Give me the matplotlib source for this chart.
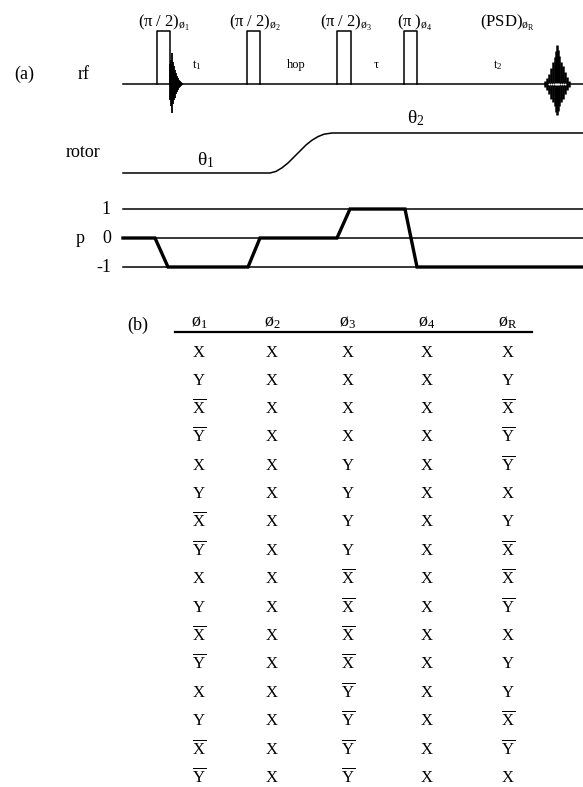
import matplotlib
matplotlib.use("Agg")
import matplotlib.pyplot as plt

plt.rcParams['font.family'] = ['Liberation Serif', 'DejaVu Serif']
plt.rcParams['mathtext.fontset'] = 'custom'
plt.rcParams['mathtext.rm'] = 'Liberation Serif'
plt.rcParams['mathtext.it'] = 'Liberation Serif:italic'
plt.rcParams['mathtext.bf'] = 'Liberation Serif:bold'

W, H = 583, 787

# ---- (a) pulse sequence (time axis in pixels of the drawing) ----
pulse_start = [157, 247, 337, 404]
pulse_end = [170, 260, 351, 417]
pulse_labels = [r'$\mathrm{(π\ /\ 2)}_{\mathrm{ø}_1}$', r'$\mathrm{(π\ /\ 2)}_{\mathrm{ø}_2}$',
                r'$\mathrm{(π\ /\ 2)}_{\mathrm{ø}_3}$', r'$\mathrm{(π\ )}_{\mathrm{ø}_4}$']
label_left = [138, 229, 320, 397]
delay_names = [r'$\mathrm{t}_1$', 'hop', 'τ', r'$\mathrm{t}_2$']
delay_x = [197, 296, 376, 498]

# FID after first pulse, and echo at the end (spike heights above/below rf line)
fid_x = [170, 171, 172, 173, 174, 175, 176, 177, 178, 179, 180, 181, 182]
fid_up = [20, 24, 31, 22, 18, 14, 11, 8, 6, 4, 3, 2, 1]
fid_down = [16, 22, 29, 20, 16, 14, 10, 8, 6, 4, 3, 2, 1]
echo_x = [545, 547, 549, 551, 553, 555, 556, 557, 558, 559, 561, 563, 565, 567, 569]
echo_up = [3, 6, 10, 16, 22, 27, 33, 39, 34, 28, 22, 18, 12, 7, 3]
echo_down = [3, 6, 10, 15, 18, 22, 28, 31, 27, 22, 18, 15, 10, 6, 3]

# rotor angle trajectory
rotor_t = [123, 270, 276, 282, 288, 294, 300, 306, 312, 318, 324, 332, 583]
rotor_level = [0.0, 0.0, 0.04, 0.13, 0.25, 0.40, 0.55, 0.70, 0.82, 0.91, 0.97, 1.0, 1.0]

# coherence pathway
path_t = [123, 155, 168, 248, 260, 337, 350, 405, 417, 583]
path_p = [0, 0, -1, -1, 0, 0, 1, 1, -1, -1]
p_levels = [1, 0, -1]

# ---- (b) phase cycle table ----
headers = [r'$\mathrm{ø}_1$', r'$\mathrm{ø}_2$', r'$\mathrm{ø}_3$', r'$\mathrm{ø}_4$', r'$\mathrm{ø}_\mathrm{R}$']
phi1 = ['X', 'Y', '-X', '-Y', 'X', 'Y', '-X', '-Y', 'X', 'Y', '-X', '-Y', 'X', 'Y', '-X', '-Y']
phi2 = ['X', 'X', 'X', 'X', 'X', 'X', 'X', 'X', 'X', 'X', 'X', 'X', 'X', 'X', 'X', 'X']
phi3 = ['X', 'X', 'X', 'X', 'Y', 'Y', 'Y', 'Y', '-X', '-X', '-X', '-X', '-Y', '-Y', '-Y', '-Y']
phi4 = ['X', 'X', 'X', 'X', 'X', 'X', 'X', 'X', 'X', 'X', 'X', 'X', 'X', 'X', 'X', 'X']
phiR = ['X', 'Y', '-X', '-Y', '-Y', 'X', 'Y', '-X', '-X', '-Y', 'X', 'Y', 'Y', '-X', '-Y', 'X']
columns = [phi1, phi2, phi3, phi4, phiR]
col_x = [199, 272, 348, 427, 508]


def phase_text(s):
    if s.startswith('-'):
        return r'$\overline{\mathrm{%s}}$' % s[1:]
    return s


fig = plt.figure(figsize=(W / 100, H / 100), dpi=100)
ax = fig.add_axes([0, 0, 1, 1])
ax.set_xlim(0, W)
ax.set_ylim(H, 0)
ax.axis('off')

# rf line and pulses
rf_y = 84
ax.plot([123, W], [rf_y, rf_y], color='black', lw=1.1)
for s, e in zip(pulse_start, pulse_end):
    ax.plot([s, s, e, e], [rf_y, 31, 31, rf_y], color='black', lw=1.1)
for lab, lx in zip(pulse_labels, label_left):
    ax.text(lx, 27, lab, fontsize=12, ha='left', va='baseline')
ax.text(480, 27, r'$\mathrm{(PSD)}_{\mathrm{ø}_\mathrm{R}}$', fontsize=12, ha='left', va='baseline')
for name, dx in zip(delay_names, delay_x):
    ax.text(dx, 68, name, fontsize=9, ha='center', va='baseline')
ax.vlines(fid_x, [rf_y - u for u in fid_up], [rf_y + d for d in fid_down], color='black', lw=1.3)
ax.vlines(echo_x, [rf_y - u for u in echo_up], [rf_y + d for d in echo_down], color='black', lw=1.8)
ax.plot(echo_x[2:-2], [rf_y] * len(echo_x[2:-2]), ls='none', marker='o', ms=1.4,
        mfc='white', mec='none')

ax.text(24, 79, '(a)', fontsize=13, ha='center', va='baseline')
ax.text(84, 79, 'rf', fontsize=13, ha='center', va='baseline')

# rotor
ax_rot = fig.add_axes([0, 1 - 173 / H, 1, 40 / H])
ax_rot.set_xlim(0, W)
ax_rot.set_ylim(0, 1)
ax_rot.axis('off')
ax_rot.plot(rotor_t, rotor_level, color='black', lw=1.1, clip_on=False)
ax.text(83, 157, 'rotor', fontsize=13, ha='center', va='baseline')
ax.text(206, 165, r'$\mathrm{θ}_1$', fontsize=14, ha='center', va='baseline')
ax.text(416, 123, r'$\mathrm{θ}_2$', fontsize=14, ha='center', va='baseline')

# coherence levels
ax_p = fig.add_axes([0, 1 - 296 / H, 1, 118 / H])
ax_p.set_xlim(0, W)
ax_p.set_ylim(-2, 2.07)
ax_p.axis('off')
for p in p_levels:
    ax_p.plot([123, W], [p, p], color='black', lw=1.1)
    ax_p.text(111, p, '%d' % p, fontsize=13, ha='right', va='center')
ax_p.text(80, 0, 'p', fontsize=13, ha='center', va='center')
ax_p.plot(path_t, path_p, color='black', lw=2.4, solid_joinstyle='miter')

# table
ax.text(138, 330, '(b)', fontsize=13, ha='center', va='baseline')
for hx, h in zip(col_x, headers):
    ax.text(hx, 326, h, fontsize=13, ha='center', va='baseline')
ax.plot([175, 532], [332, 332], color='black', lw=1.6)
row_y = [352, 380, 408, 436, 465, 493, 521, 550, 578, 607, 635, 663, 692, 720, 749, 777]
for cx, col in zip(col_x, columns):
    for ry, v in zip(row_y, col):
        ax.text(cx, ry + 5, phase_text(v), fontsize=12, ha='center', va='baseline')

fig.savefig('out.png', dpi=100)
